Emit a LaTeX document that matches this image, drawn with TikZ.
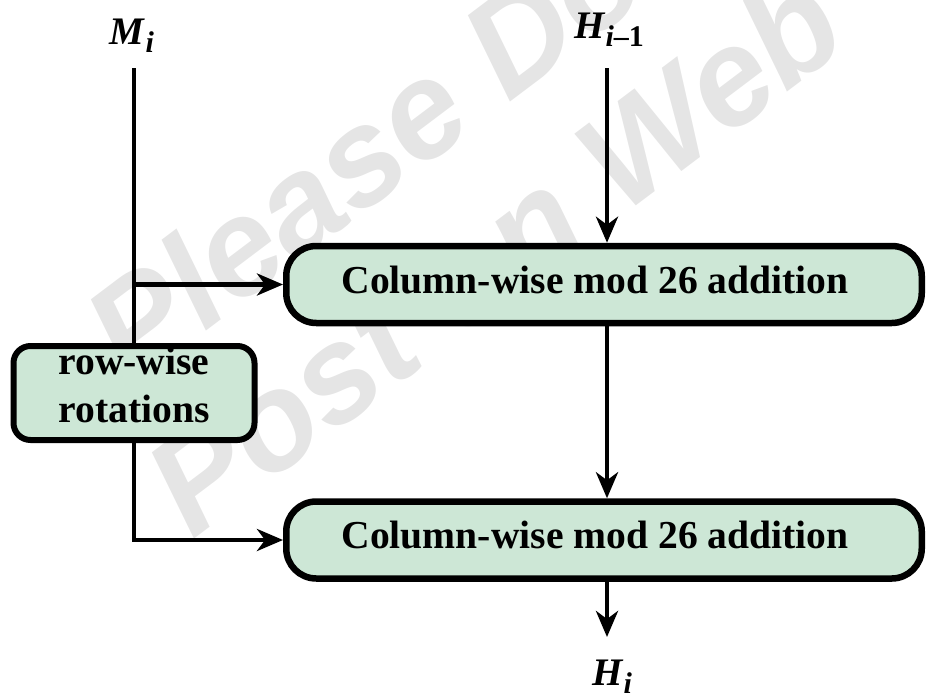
\documentclass[tikz,border=0pt]{standalone}
\usepackage{fontspec}
\setmainfont{Liberation Serif}
\newfontfamily\wmfont{Liberation Sans}
\usetikzlibrary{arrows.meta,calc}
\definecolor{boxgreen}{RGB}{205,231,214}
\definecolor{wmgray}{RGB}{229,229,229}
% bold italic variable with a lowered, smaller subscript
\newcommand{\varlabel}[2]{\textbf{\textit{#1}}\raisebox{-8pt}{\fontsize{30}{30}\selectfont\bfseries #2}}
\begin{document}
\begin{tikzpicture}[x=1pt,y=-1pt,
  stage/.style={draw, line width=6.5pt, fill=boxgreen, rounded corners=30pt,
    minimum width=635.5pt, minimum height=77pt, inner sep=0pt,
    font=\fontsize{39.6}{45}\selectfont\bfseries, text height=17pt, text depth=0pt},
  rotbox/.style={draw, line width=6pt, fill=boxgreen, rounded corners=17pt,
    minimum width=241pt, minimum height=94pt, inner sep=0pt},
  boxtext/.style={font=\fontsize{39.6}{48}\selectfont\bfseries, align=center, inner sep=0pt},
  varname/.style={font=\fontsize{39}{39}\selectfont, inner sep=0pt, anchor=base},
  wline/.style={line width=4.5pt},
  flow/.style={line width=4.5pt, -{Stealth[length=26pt,width=22pt,inset=8pt]}},
  wm/.style={font=\wmfont\fontsize{137}{137}\selectfont\bfseries\itshape,
    text=wmgray, inner sep=0pt, anchor=base west, rotate=37}]
\useasboundingbox (0,0) rectangle (928,693);

% watermark behind the diagram
\begin{scope}
  \clip (0,0) rectangle (928,693);
  \node[wm] (wm1) at (131,388) {Please Do Not};
  \node[wm] (wm2) at (192,541) {Post on Web};
\end{scope}

% inputs
\node[varname] (M) at (132,45) {\varlabel{M}{\itshape i}};
\node[varname] (Hprev) at (609,39) {\varlabel{H}{{\itshape i}–1}};
\coordinate (mtop) at (134,68);
\coordinate (htop) at (607,68);

% processing boxes
\node[stage] (add1) at (604,284.5) {Column-wise mod 26 addition\hspace*{18pt}};
\node[stage] (add2) at (604,540) {Column-wise mod 26 addition\hspace*{18pt}};
\node[rotbox] (rot) at (134,393) {};
\node[boxtext] (rottxt) at (134,385) {row-wise\\rotations};

% output
\coordinate (hout) at (607,637);
\node[varname] (H) at (612,685) {\varlabel{H}{\itshape i}};

% connectors
\draw[wline] (mtop) -- (rot.north);
\draw[flow] (mtop |- add1.west) -- (add1.west);
\draw[flow] (rot.south) -- (rot.south |- add2.west) -- (add2.west);
\draw[flow] (htop) -- (htop |- add1.north);
\draw[flow] (htop |- add1.south) -- (htop |- add2.north);
\draw[flow] (htop |- add2.south) -- (hout);
\end{tikzpicture}
\end{document}
